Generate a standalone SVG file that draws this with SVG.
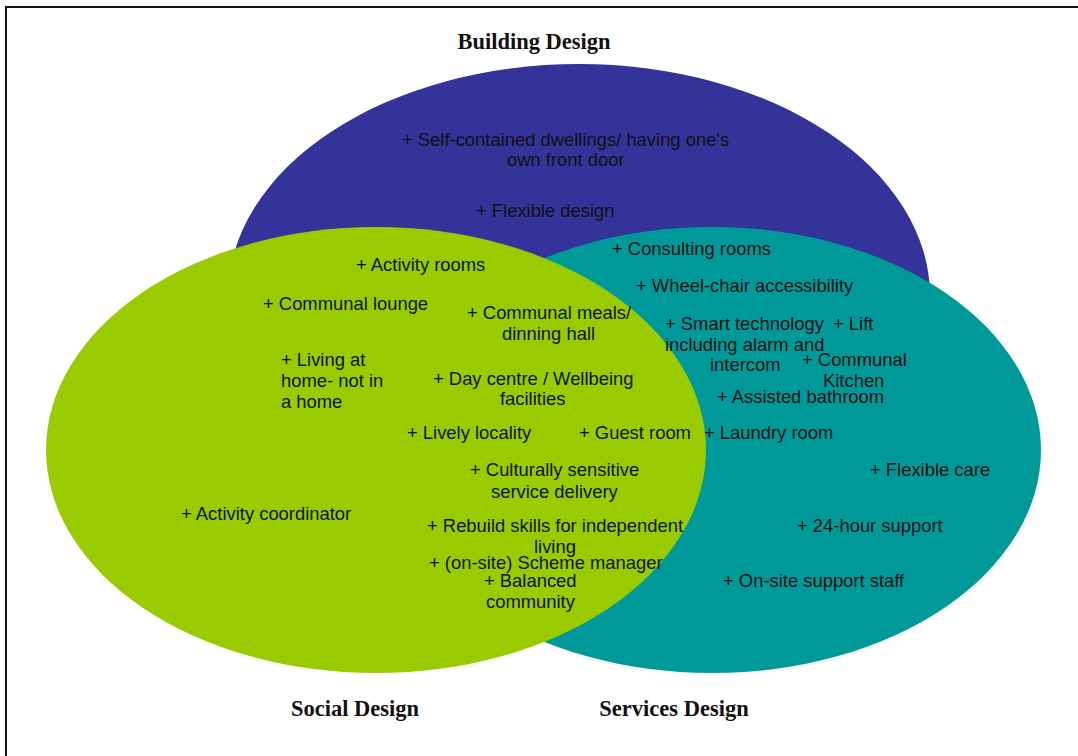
<svg xmlns="http://www.w3.org/2000/svg" width="1078" height="756" viewBox="0 0 1078 756">
<style>
.t{font-family:"Liberation Sans",Arial,sans-serif;font-size:18.4px;fill:#111}
.h{font-family:"Liberation Serif","Times New Roman",serif;font-size:22.5px;font-weight:bold;fill:#111;text-anchor:middle}
</style>
<rect width="1078" height="756" fill="#fff"/>
<path d="M6 756V7H1078" fill="none" stroke="#111" stroke-width="2"/>
<g id="building"><ellipse cx="579" cy="296" rx="351" ry="232" fill="#333399"/>
<text class="h" x="534" y="49">Building Design</text></g>
<g id="services"><ellipse cx="712" cy="450" rx="329" ry="223" fill="#009999"/>
<text class="h" x="674" y="716">Services Design</text></g>
<g id="social"><ellipse cx="376" cy="450" rx="330" ry="223" fill="#99cc00"/>
<text class="h" x="355" y="716">Social Design</text></g>
<g id="labels" class="t" transform="translate(0 0.7)">
<text x="402" y="145">+ Self-contained dwellings/ having one's</text>
<text x="507" y="165">own front door</text>
<text x="476" y="216">+ Flexible design</text>
<text x="612" y="254">+ Consulting rooms</text>
<text x="636" y="291">+ Wheel-chair accessibility</text>
<text x="665" y="329">+ Smart technology</text>
<text x="833" y="329">+ Lift</text>
<text x="665" y="350">including alarm and</text>
<text x="710" y="370">intercom</text>
<text x="802" y="365">+ Communal</text>
<text x="823" y="386">Kitchen</text>
<text x="717" y="402">+ Assisted bathroom</text>
<text x="704" y="438">+ Laundry room</text>
<text x="870" y="475">+ Flexible care</text>
<text x="797" y="531">+ 24-hour support</text>
<text x="723" y="586">+ On-site support staff</text>
<text x="356" y="270">+ Activity rooms</text>
<text x="263" y="309">+ Communal lounge</text>
<text x="467" y="318">+ Communal meals/</text>
<text x="502" y="339">dinning hall</text>
<text x="281" y="365">+ Living at</text>
<text x="281" y="386">home- not in</text>
<text x="281" y="407">a home</text>
<text x="433" y="384">+ Day centre / Wellbeing</text>
<text x="500" y="404">facilities</text>
<text x="407" y="438">+ Lively locality</text>
<text x="579" y="438">+ Guest room</text>
<text x="470" y="475">+ Culturally sensitive</text>
<text x="491" y="497">service delivery</text>
<text x="181" y="519">+ Activity coordinator</text>
<text x="427" y="531">+ Rebuild skills for independent</text>
<text x="534" y="552">living</text>
<text x="429" y="568">+ (on-site) Scheme manager</text>
<text x="484" y="586">+ Balanced</text>
<text x="486" y="607">community</text>
</g>
</svg>
